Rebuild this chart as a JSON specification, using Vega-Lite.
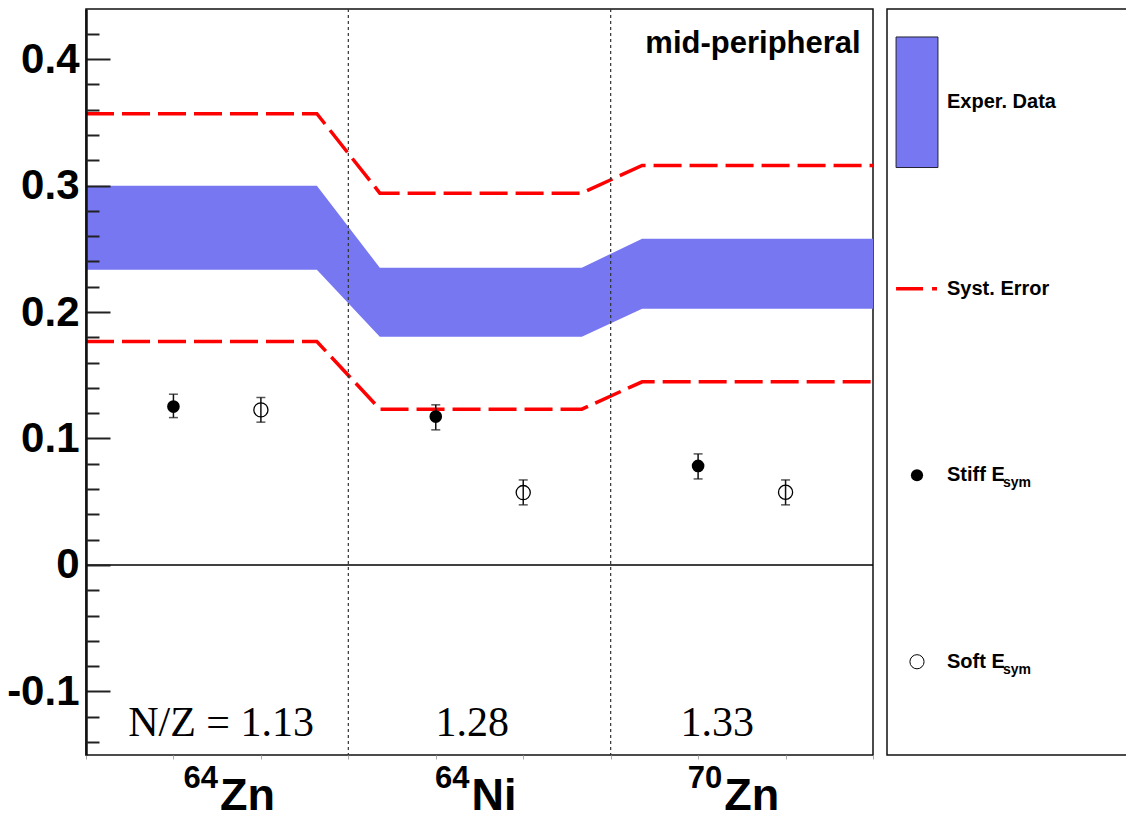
{
  "$schema": "https://vega.github.io/schema/vega-lite/v6.json",
  "background": "white",
  "padding": {"left": 5, "top": 7, "right": 0, "bottom": 0},
  "spacing": 14,
  "bounds": "flush",
  "config": {"font": "Liberation Sans"},
  "datasets": {
    "band": [
      {"x": 0, "lo": 0.2334, "hi": 0.2998},
      {"x": 0.88, "lo": 0.2334, "hi": 0.2998},
      {"x": 1.12, "lo": 0.1804, "hi": 0.235},
      {"x": 1.89, "lo": 0.1804, "hi": 0.235},
      {"x": 2.12, "lo": 0.2025, "hi": 0.258},
      {"x": 3, "lo": 0.2025, "hi": 0.258}
    ],
    "syst": [
      {"x": 0, "y": 0.3568, "edge": "upper"},
      {"x": 0.88, "y": 0.3568, "edge": "upper"},
      {"x": 1.12, "y": 0.294, "edge": "upper"},
      {"x": 1.89, "y": 0.294, "edge": "upper"},
      {"x": 2.12, "y": 0.3159, "edge": "upper"},
      {"x": 3, "y": 0.3159, "edge": "upper"},
      {"x": 0, "y": 0.1767, "edge": "lower"},
      {"x": 0.88, "y": 0.1767, "edge": "lower"},
      {"x": 1.12, "y": 0.1232, "edge": "lower"},
      {"x": 1.89, "y": 0.1232, "edge": "lower"},
      {"x": 2.12, "y": 0.1448, "edge": "lower"},
      {"x": 3, "y": 0.1448, "edge": "lower"}
    ],
    "points": [
      {"x": 0.3333, "y": 0.1252, "lo": 0.1165, "hi": 0.135, "model": "Stiff"},
      {"x": 1.3333, "y": 0.1173, "lo": 0.1068, "hi": 0.1266, "model": "Stiff"},
      {"x": 2.3333, "y": 0.0783, "lo": 0.068, "hi": 0.0878, "model": "Stiff"},
      {"x": 0.6667, "y": 0.1226, "lo": 0.1129, "hi": 0.1324, "model": "Soft"},
      {"x": 1.6667, "y": 0.0572, "lo": 0.0475, "hi": 0.0672, "model": "Soft"},
      {"x": 2.6667, "y": 0.0575, "lo": 0.0475, "hi": 0.0672, "model": "Soft"}
    ],
    "dividers": [{"x": 1}, {"x": 2}],
    "nz": [
      {"x": 0.515, "text": "N/Z = 1.13"},
      {"x": 1.472, "text": "1.28"},
      {"x": 2.406, "text": "1.33"}
    ],
    "iso": [
      {"x": 0.503, "mass": "64", "el": "Zn"},
      {"x": 1.462, "mass": "64", "el": "Ni"},
      {"x": 2.425, "mass": "70", "el": "Zn"}
    ],
    "legend": [
      {"label": "Exper. Data", "main": "Exper. Data", "sub": "", "kind": "band"},
      {"label": "Syst. Error", "main": "Syst. Error", "sub": "", "kind": "syst"},
      {"label": "Stiff", "main": "Stiff E", "sub": "sym", "kind": "stiff"},
      {"label": "Soft", "main": "Soft E", "sub": "sym", "kind": "soft"}
    ]
  },
  "hconcat": [
    {
      "width": 787,
      "height": 746,
      "view": {"stroke": "#111", "strokeWidth": 1.5},
      "resolve": {"axis": {"y": "independent"}},
      "layer": [
        {
          "data": {"name": "band"},
          "mark": {"type": "area", "color": "#7777f2", "opacity": 1},
          "encoding": {
            "x": {"field": "x", "type": "quantitative",
              "scale": {"domain": [0, 3], "nice": false, "zero": false},
              "axis": {"values": [0, 0.3333, 0.6667, 1, 1.3333, 1.6667, 2, 2.3333, 2.6667, 3], "labels": false, "ticks": true, "tickSize": 4, "tickColor": "#aaaaaa", "tickWidth": 1, "domain": false, "grid": false, "title": null}},
            "y": {"field": "lo", "type": "quantitative",
              "scale": {"domain": [-0.1503, 0.4396], "nice": false, "zero": false},
              "axis": {"orient": "left", "values": [-0.1, 0, 0.1, 0.2, 0.3, 0.4],
                "labelExpr": "abs(datum.value) < 1e-9 ? '0' : (datum.value < 0 ? '-' + format(-datum.value, '.1f') : format(datum.value, '.1f'))",
                "tickSize": -24, "tickWidth": 2, "tickColor": "#222222",
                "labelFont": "Liberation Sans", "labelFontWeight": "bold", "labelFontSize": 42, "labelColor": "black",
                "labelPadding": 31, "domain": true, "domainWidth": 2.5, "domainColor": "#111111",
                "grid": false, "title": null, "zindex": 1}},
            "y2": {"field": "hi"}
          }
        },
        {
          "data": {"name": "syst"},
          "mark": {"type": "line", "color": "#ff0000", "strokeWidth": 3.5, "strokeDash": [28, 8]},
          "encoding": {
            "x": {"field": "x", "type": "quantitative", "title": null},
            "y": {"field": "y", "type": "quantitative",
              "axis": {"orient": "left", "values": [-0.14, -0.12, -0.08, -0.06, -0.04, -0.02, 0.02, 0.04, 0.06, 0.08, 0.12, 0.14, 0.16, 0.18, 0.22, 0.24, 0.26, 0.28, 0.32, 0.34, 0.36, 0.38, 0.42],
                "labels": false, "tickSize": -13, "tickWidth": 2, "tickColor": "#222222", "domain": false, "grid": false, "title": null, "zindex": 1}},
            "detail": {"field": "edge"},
            "order": {"field": "x", "type": "quantitative"}
          }
        },
        {
          "data": {"name": "dividers"},
          "mark": {"type": "rule", "color": "#333333", "strokeWidth": 1.2, "strokeDash": [3, 3]},
          "encoding": {
            "x": {"field": "x", "type": "quantitative", "title": null}
          }
        },
        {
          "data": {"values": [{"level": 0}]},
          "mark": {"type": "rule", "color": "#000000", "strokeWidth": 1.5},
          "encoding": {
            "y": {"field": "level", "type": "quantitative", "axis": null}
          }
        },
        {
          "data": {"name": "points"},
          "mark": {"type": "rule", "color": "#111111", "strokeWidth": 1.5},
          "encoding": {
            "x": {"field": "x", "type": "quantitative", "title": null},
            "y": {"field": "lo", "type": "quantitative", "axis": null},
            "y2": {"field": "hi"}
          }
        },
        {
          "data": {"name": "points"},
          "mark": {"type": "tick", "orient": "horizontal", "color": "#111111", "size": 9, "thickness": 1.5},
          "encoding": {
            "x": {"field": "x", "type": "quantitative", "title": null},
            "y": {"field": "lo", "type": "quantitative", "axis": null}
          }
        },
        {
          "data": {"name": "points"},
          "mark": {"type": "tick", "orient": "horizontal", "color": "#111111", "size": 9, "thickness": 1.5},
          "encoding": {
            "x": {"field": "x", "type": "quantitative", "title": null},
            "y": {"field": "hi", "type": "quantitative", "axis": null}
          }
        },
        {
          "data": {"name": "points"},
          "transform": [{"filter": "datum.model === 'Stiff'"}],
          "mark": {"type": "point", "shape": "circle", "filled": true, "color": "#000000", "size": 160, "opacity": 1},
          "encoding": {
            "x": {"field": "x", "type": "quantitative", "title": null},
            "y": {"field": "y", "type": "quantitative", "axis": null}
          }
        },
        {
          "data": {"name": "points"},
          "transform": [{"filter": "datum.model === 'Soft'"}],
          "mark": {"type": "point", "shape": "circle", "filled": false, "color": "#000000", "strokeWidth": 1.3, "size": 200, "opacity": 1},
          "encoding": {
            "x": {"field": "x", "type": "quantitative", "title": null},
            "y": {"field": "y", "type": "quantitative", "axis": null}
          }
        },
        {
          "data": {"name": "nz"},
          "mark": {"type": "text", "font": "Liberation Serif", "fontSize": 42, "align": "center", "baseline": "alphabetic", "color": "#000000"},
          "encoding": {
            "x": {"field": "x", "type": "quantitative", "title": null},
            "y": {"datum": -0.135, "type": "quantitative", "axis": null},
            "text": {"field": "text"}
          }
        },
        {
          "data": {"name": "iso"},
          "mark": {"type": "text", "font": "Liberation Sans", "fontWeight": "bold", "fontSize": 31, "align": "right", "baseline": "alphabetic", "dy": -22, "color": "#000000"},
          "encoding": {
            "x": {"field": "x", "type": "quantitative", "title": null},
            "y": {"datum": -0.1935, "type": "quantitative", "axis": null},
            "text": {"field": "mass"}
          }
        },
        {
          "data": {"name": "iso"},
          "mark": {"type": "text", "font": "Liberation Sans", "fontWeight": "bold", "fontSize": 45, "align": "left", "baseline": "alphabetic", "dx": 2, "color": "#000000"},
          "encoding": {
            "x": {"field": "x", "type": "quantitative", "title": null},
            "y": {"datum": -0.1935, "type": "quantitative", "axis": null},
            "text": {"field": "el"}
          }
        },
        {
          "data": {"values": [{"label": "mid-peripheral", "x": 2.953, "y": 0.4048}]},
          "mark": {"type": "text", "font": "Liberation Sans", "fontWeight": "bold", "fontSize": 31, "align": "right", "baseline": "alphabetic", "color": "#000000"},
          "encoding": {
            "x": {"field": "x", "type": "quantitative", "title": null},
            "y": {"field": "y", "type": "quantitative", "axis": null},
            "text": {"field": "label"}
          }
        }
      ]
    },
    {
      "width": 245,
      "height": 746,
      "view": {"stroke": "#111", "strokeWidth": 1.5},
      "data": {"name": "legend"},
      "layer": [
        {
          "transform": [{"filter": "datum.kind === 'band'"}],
          "mark": {"type": "rect", "color": "#7777f2", "stroke": "#222233", "strokeWidth": 1},
          "encoding": {
            "x": {"datum": 0.037, "type": "quantitative", "scale": {"domain": [0, 1], "nice": false, "zero": false}, "axis": null},
            "x2": {"datum": 0.208},
            "y": {"field": "label", "type": "nominal", "scale": {"domain": ["Exper. Data", "Syst. Error", "Stiff", "Soft"], "paddingInner": 0.3, "paddingOuter": 0.15}, "axis": null}
          }
        },
        {
          "transform": [{"filter": "datum.kind === 'syst'"}],
          "mark": {"type": "rule", "color": "#ff0000", "strokeWidth": 3.5, "strokeDash": [27, 9]},
          "encoding": {
            "x": {"datum": 0.037, "type": "quantitative"},
            "x2": {"datum": 0.204},
            "y": {"field": "label", "type": "nominal"}
          }
        },
        {
          "transform": [{"filter": "datum.kind === 'stiff'"}],
          "mark": {"type": "point", "shape": "circle", "filled": true, "color": "#000000", "size": 150, "opacity": 1},
          "encoding": {
            "x": {"datum": 0.1224, "type": "quantitative"},
            "y": {"field": "label", "type": "nominal"}
          }
        },
        {
          "transform": [{"filter": "datum.kind === 'soft'"}],
          "mark": {"type": "point", "shape": "circle", "filled": false, "color": "#000000", "strokeWidth": 1, "size": 200, "opacity": 1},
          "encoding": {
            "x": {"datum": 0.1224, "type": "quantitative"},
            "y": {"field": "label", "type": "nominal"}
          }
        },
        {
          "mark": {"type": "text", "font": "Liberation Sans", "fontWeight": "bold", "fontSize": 20, "align": "left", "baseline": "middle", "color": "#000000"},
          "encoding": {
            "x": {"datum": 0.245, "type": "quantitative"},
            "y": {"field": "label", "type": "nominal"},
            "text": {"field": "main"}
          }
        },
        {
          "transform": [{"filter": "datum.sub !== ''"}],
          "mark": {"type": "text", "font": "Liberation Sans", "fontWeight": "bold", "fontSize": 14, "align": "left", "baseline": "middle", "dx": 56, "dy": 8, "color": "#000000"},
          "encoding": {
            "x": {"datum": 0.245, "type": "quantitative"},
            "y": {"field": "label", "type": "nominal"},
            "text": {"field": "sub"}
          }
        }
      ]
    }
  ]
}
